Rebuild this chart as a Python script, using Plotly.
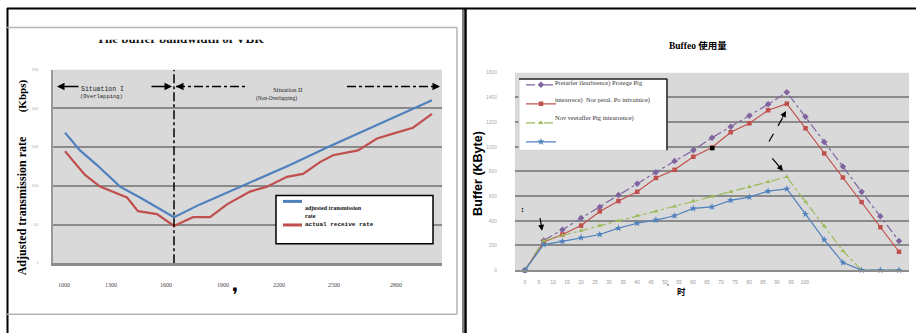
import plotly.graph_objects as go

W, H = 916, 336

def px(x):
    return x / W

def py(y):
    return 1 - y / H

# ---------------- Left chart data ----------------
left_tick_pos = [11, 58, 113, 170, 226, 281, 343]
left_tick_labels = ["1000", "1300", "1600", "1900", "2200", "2500", "2800"]
left_y_ticks = [0, 500, 1000, 1500, 2000, 2500]

adj_x = [12, 27, 44, 67, 87, 104, 121, 147, 187, 237, 274, 327, 379]
adj_y = [1688, 1459, 1269, 990, 850, 723, 596, 761, 990, 1269, 1497, 1802, 2107]

act_x = [12, 24, 32, 47, 74, 85, 104, 121, 140, 157, 174, 197, 214, 234, 250,
         267, 280, 305, 324, 340, 360, 379]
act_y = [1447, 1269, 1142, 990, 850, 673, 635, 482, 596, 596, 761, 926, 990, 1117,
         1155, 1307, 1396, 1459, 1612, 1675, 1751, 1929]

boundary_x = 121

# ---------------- Right chart data ----------------
time_x = [0, 5, 10, 15, 20, 25, 30, 35, 40, 45, 50, 55, 60, 65, 70, 75, 80, 85, 90, 95, 100]
purple_y = [0, 241, 327, 422, 512, 608, 701, 794, 884, 972, 1073, 1163, 1251, 1344, 1442,
            1243, 1038, 839, 635, 436, 237]
red_y = [0, 229, 289, 361, 476, 560, 635, 747, 813, 919, 994, 1118, 1190, 1296, 1349,
         1150, 946, 751, 552, 348, 149]
green_y = [0, 237, 281, 321, 361, 401, 441, 476, 516, 560, 595, 635, 675, 715, 755,
           555, 356, 157, 0, 0, 0]
blue_y = [0, 207, 233, 263, 289, 340, 380, 406, 441, 500, 512, 566, 592, 640, 659,
          454, 247, 61, 0, 0, 0]
right_tick_labels = ["0", "5", "10", "15", "20", "25", "30", "35", "40", "45", "50",
                     "55", "60", "65", "70", "75", "80", "85", "90", "95", "100"]
right_tick_pos = [i * 3.743 for i in range(len(right_tick_labels))]
right_y_ticks = [0, 200, 400, 600, 800, 1000, 1200, 1400, 1600]

legend_texts = ["Pretarfer ilearbrence) Protege Pig",
                "intearrece)  Nor petal. Po inivainice)",
                "Nov veetaffer Pig intearrence)"]

BLUE = "#4f81bd"
RED = "#c0504d"
PURPLE = "#8064a2"
GREEN = "#9bbb59"
GRID = "#8a8a8a"
BG = "#d9d9d9"

fig = go.Figure()

# left traces
fig.add_trace(go.Scatter(x=adj_x, y=adj_y, mode="lines", line=dict(color=BLUE, width=2.2),
                         xaxis="x", yaxis="y", showlegend=False, hoverinfo="skip"))
fig.add_trace(go.Scatter(x=act_x, y=act_y, mode="lines", line=dict(color=RED, width=2.2),
                         xaxis="x", yaxis="y", showlegend=False, hoverinfo="skip"))

# right traces
fig.add_trace(go.Scatter(x=time_x, y=purple_y, mode="lines+markers", name="",
                         line=dict(color=PURPLE, width=1.2, dash="dashdot"),
                         marker=dict(symbol="diamond", size=5, color=PURPLE),
                         xaxis="x2", yaxis="y2", legend="legend2", cliponaxis=False,
                         hoverinfo="skip"))
fig.add_trace(go.Scatter(x=time_x, y=red_y, mode="lines+markers", name="",
                         line=dict(color=RED, width=1.2),
                         marker=dict(symbol="square", size=4.5, color=RED),
                         xaxis="x2", yaxis="y2", legend="legend2", cliponaxis=False,
                         hoverinfo="skip"))
fig.add_trace(go.Scatter(x=time_x, y=green_y, mode="lines+markers", name="",
                         line=dict(color=GREEN, width=1.2, dash="dashdot"),
                         marker=dict(symbol="triangle-up", size=4.5, color=GREEN),
                         xaxis="x2", yaxis="y2", legend="legend2", cliponaxis=False,
                         hoverinfo="skip"))
fig.add_trace(go.Scatter(x=time_x, y=blue_y, mode="lines+markers", name="",
                         line=dict(color=BLUE, width=1.2),
                         marker=dict(symbol="star", size=5.5, color=BLUE),
                         xaxis="x2", yaxis="y2", legend="legend2", cliponaxis=False,
                         hoverinfo="skip"))

# clipped left title (only the lower part of the glyphs is visible)
fig.add_trace(go.Scatter(x=[180], y=[1.0], mode="text",
                         text=["The buffer bandwidth of VBR"], textposition="middle center",
                         textfont=dict(family="Liberation Serif", size=13, color="#111",
                                       weight="bold"),
                         xaxis="x3", yaxis="y3", cliponaxis=True, showlegend=False,
                         hoverinfo="skip"))

shapes = []
# plot backgrounds
for xr, yr in (("x domain", "y domain"), ("x2 domain", "y2 domain")):
    shapes.append(dict(type="rect", xref=xr, yref=yr, x0=0, x1=1, y0=0, y1=1,
                       fillcolor=BG, line=dict(width=0), layer="below"))

def pline(x0, y0, x1, y1, color="black", width=1.5, dash="solid", layer="above"):
    shapes.append(dict(type="line", xref="paper", yref="paper", x0=px(x0), x1=px(x1),
                       y0=py(y0), y1=py(y1), line=dict(color=color, width=width, dash=dash),
                       layer=layer))

# frames
pline(7, 5.5, 916, 5.5, "black", 2)
pline(7.5, 5, 7.5, 336, "black", 2)
pline(7, 25, 457, 25, "#b5b5b5", 1.5)
pline(457, 25, 457, 317, "#b5b5b5", 1.5)
pline(7, 317, 457, 317, "#b5b5b5", 1.5)
pline(463, 5, 463, 336, "black", 1)
pline(465.5, 5, 465.5, 336, "black", 2.5)

# vertical boundary in left chart
shapes.append(dict(type="line", xref="x", yref="y", x0=boundary_x, x1=boundary_x,
                   y0=0, y1=2500, line=dict(color="black", width=1.5, dash="dashdot"),
                   layer="above"))

# situation arrows (dash-dot parts)
pline(176, 85, 247, 85, "black", 1.5, "dashdot")
pline(347, 85, 438, 85, "black", 1.5, "dashdot")

# left legend box
shapes.append(dict(type="rect", xref="paper", yref="paper", x0=px(276), x1=px(433),
                   y0=py(245), y1=py(196), fillcolor="white",
                   line=dict(color="black", width=1.5), layer="above"))
pline(283, 202, 302, 202, BLUE, 3)
pline(283, 226, 302, 226, RED, 3)

# right legend box
shapes.append(dict(type="rect", xref="paper", yref="paper", x0=px(519), x1=px(667),
                   y0=py(150), y1=py(77), fillcolor="white",
                   line=dict(color="#d0d0d0", width=1), layer="above"))
pline(519, 77.5, 667, 77.5, "#222", 1.5)
pline(667, 77, 667, 150, "#222", 1.5)

# right chart arrows (dashed parts)
pline(769, 141, 786, 111, "black", 1.2, "dash")
pline(540, 219, 542, 230, "black", 1.2, "dash")
# small black marker on the red curve
shapes.append(dict(type="rect", xref="paper", yref="paper", x0=px(710), x1=px(714.5),
                   y0=py(150), y1=py(145.5), fillcolor="black", line=dict(width=0),
                   layer="above"))
# tiny dot left of the x title
shapes.append(dict(type="circle", xref="paper", yref="paper", x0=px(667), x1=px(669),
                   y0=py(288), y1=py(286), fillcolor="#888", line=dict(width=0),
                   layer="above"))

ann = []

def txt(x, y, s, size, family="Liberation Serif", color="#111", xanchor="center",
        angle=0, bold=False):
    ann.append(dict(xref="paper", yref="paper", x=px(x), y=py(y), text=s, showarrow=False,
                    xanchor=xanchor, yanchor="middle", textangle=angle, borderpad=0,
                    font=dict(family=family, size=size, color=color,
                              weight="bold" if bold else "normal")))

def arrow(tx, ty, ax, ay, width=1.5, size=1.0):
    ann.append(dict(xref="paper", yref="paper", x=px(tx), y=py(ty), ax=ax, ay=ay,
                    text="", showarrow=True, arrowhead=2, arrowsize=size,
                    arrowwidth=width, arrowcolor="black", standoff=0))

# left chart texts
txt(102, 88, "Situation I", 6.5, family="Liberation Mono", color="#222")
txt(101, 95, "(Overlapping)", 5.5, family="Liberation Mono", color="#222")
txt(287, 88, "Situation II", 6.5, color="#222")
txt(276, 97, "(Non-Overlapping)", 5.3, color="#222")
arrow(57, 85, 23, 0)
arrow(172, 85, -22, 0)
arrow(176, 85, 8, 0)
arrow(440, 85, -8, 0)

# left legend labels (one block, lines tightly packed as in the original)
ann.append(dict(xref="paper", yref="paper", x=px(304), y=py(217), showarrow=False,
                xanchor="left", yanchor="middle", align="left", borderpad=0,
                text=("<b>adjusted transmission</b><br><b>rate</b><br>"
                      "<span style='font-family:Liberation Mono'><b>actual receive rate</b></span>"),
                font=dict(family="Liberation Serif", size=6, color="#111")))

txt(22, 207, "Adjusted transmission rate", 12, color="#000", angle=-90, bold=True)
txt(22, 95, "(Kbps)", 11, color="#000", angle=-90, bold=True)
txt(235, 297, "❜", 20, family="DejaVu Sans", color="#000")

# right chart texts
ann.append(dict(xref="paper", yref="paper", x=px(698), y=py(43), showarrow=False,
                text="<b>Buffeo </b><span style='font-family:Noto Sans CJK SC'><b>使用量</b></span>",
                font=dict(family="Liberation Serif", size=9.5, color="#000"),
                xanchor="center", yanchor="middle"))
txt(478, 174, "Buffer (KByte)", 12.5, family="Liberation Sans", color="#000", angle=-90,
    bold=True)
txt(681, 293.5, "时", 8.5, family="Noto Sans CJK SC", color="#000", bold=True)
txt(554, 81, legend_texts[0], 6.5, color="#333", xanchor="left")
txt(554, 99, legend_texts[1], 6.5, color="#333", xanchor="left")
txt(554, 117, legend_texts[2], 6.5, color="#333", xanchor="left")
txt(522, 210, ":", 9, color="#000", bold=True)

arrow(786, 110, -4.5, 8, width=1.2)
arrow(783, 171, -12, -14, width=1.2)
arrow(542, 232, -1, -7, width=1.2)

fig.update_layout(
    width=W, height=H,
    margin=dict(l=0, r=0, t=0, b=0),
    paper_bgcolor="white",
    plot_bgcolor="rgba(0,0,0,0)",
    shapes=shapes,
    annotations=ann,
    showlegend=True,
    xaxis=dict(domain=[px(53), px(442)], range=[0, 389], anchor="y",
               tickmode="array", tickvals=left_tick_pos, ticktext=left_tick_labels,
               showgrid=False, zeroline=False, showline=True, linecolor="#8c8c8c",
               linewidth=2.5, ticks="", ticklabelstandoff=14,
               tickfont=dict(family="Liberation Serif", size=6, color="#444")),
    yaxis=dict(domain=[py(265), py(68)], range=[0, 2500], anchor="x",
               tickmode="array", tickvals=left_y_ticks,
               showgrid=True, gridcolor=GRID, gridwidth=2, zeroline=False,
               showline=True, linecolor="#999", linewidth=2, ticks="",
               ticklabelstandoff=12,
               tickfont=dict(family="Liberation Sans", size=3, color="#aaa")),
    xaxis2=dict(domain=[px(515), px(909)], range=[-2.67, 102.67], anchor="y2",
                tickmode="array", tickvals=right_tick_pos, ticktext=right_tick_labels,
                showgrid=False, zeroline=False, showline=True, linecolor="#8c8c8c",
                linewidth=2, ticks="", ticklabelstandoff=6,
                tickfont=dict(family="Liberation Sans", size=5, color="#999")),
    yaxis2=dict(domain=[py(272), py(71)], range=[0, 1600], anchor="x2",
                tickmode="array", tickvals=right_y_ticks,
                showgrid=True, gridcolor=GRID, gridwidth=1.5, zeroline=False,
                showline=False, ticks="", ticklabelstandoff=17,
                tickfont=dict(family="Liberation Sans", size=5, color="#aaa")),
    xaxis3=dict(domain=[0, 1], range=[0, W], anchor="y3", visible=False),
    yaxis3=dict(domain=[py(42), py(37.5)], range=[0, 1], anchor="x3", visible=False),
    legend2=dict(x=px(521), y=py(68.5), xanchor="left", yanchor="top",
                 bgcolor="rgba(0,0,0,0)", borderwidth=0,
                 font=dict(size=7), itemwidth=30, tracegroupgap=0),
)

fig.write_html("out.html", config={"displayModeBar": False},
               post_script="document.body.style.margin='0';document.body.style.overflow='hidden';")
